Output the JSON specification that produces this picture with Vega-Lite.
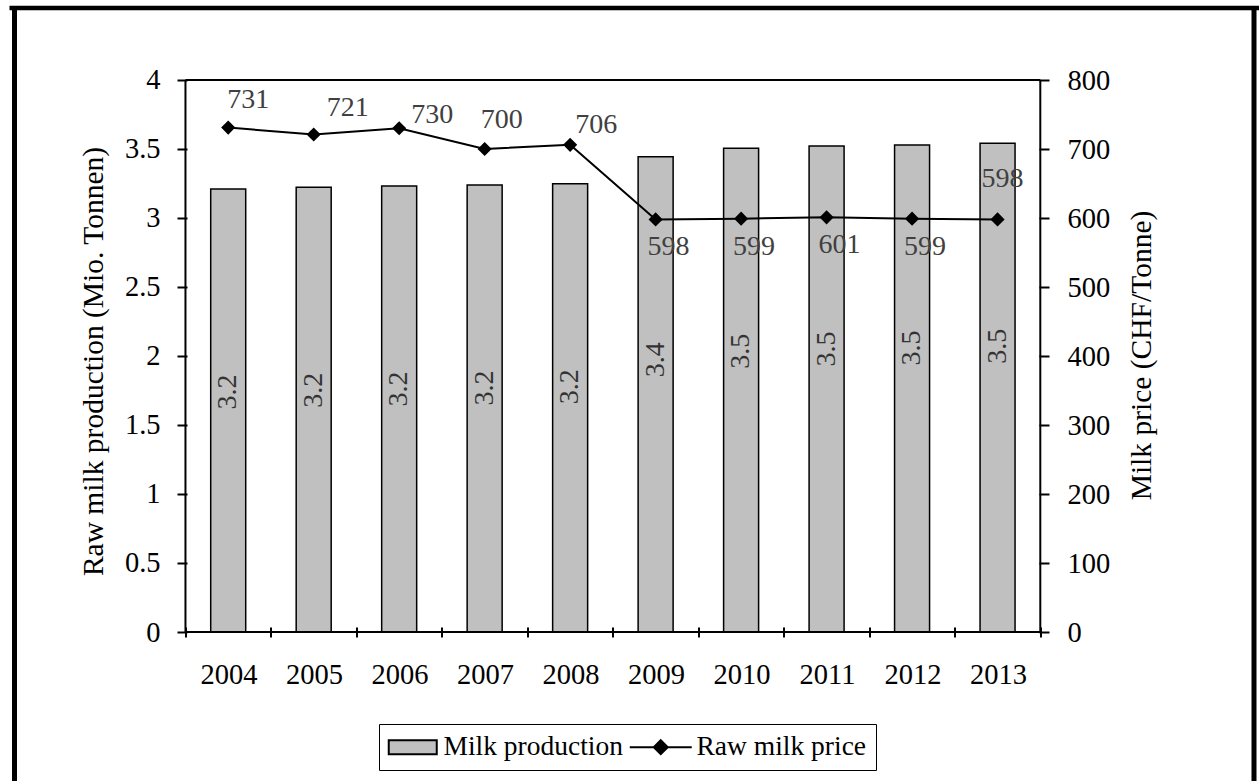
{
  "$schema": "https://vega.github.io/schema/vega-lite/v6.json",
  "width": 1249.5,
  "height": 773,
  "autosize": {"type": "none"},
  "padding": {"left": 9.5, "top": 8, "right": 0, "bottom": 0},
  "background": "white",
  "config": {
    "view": {"stroke": null},
    "font": "Liberation Serif",
    "axis": {
      "labelFont": "Liberation Serif",
      "titleFont": "Liberation Serif",
      "labelFontSize": 28.5,
      "titleFontSize": 29.5,
      "labelColor": "black",
      "titleColor": "black",
      "titleFontWeight": "normal",
      "domain": false,
      "grid": false,
      "tickColor": "black",
      "tickWidth": 2,
      "tickSize": 10
    }
  },
  "data": {
    "values": [
      {"year": 2004, "prod": 3.21, "price": 731},
      {"year": 2005, "prod": 3.222, "price": 721},
      {"year": 2006, "prod": 3.232, "price": 730},
      {"year": 2007, "prod": 3.239, "price": 700},
      {"year": 2008, "prod": 3.249, "price": 706},
      {"year": 2009, "prod": 3.444, "price": 598},
      {"year": 2010, "prod": 3.505, "price": 599},
      {"year": 2011, "prod": 3.522, "price": 601},
      {"year": 2012, "prod": 3.529, "price": 599},
      {"year": 2013, "prod": 3.541, "price": 598}
    ]
  },
  "layer": [
    {
      "layer": [
        {
          "mark": {"type": "bar", "orient": "vertical", "width": 35, "fill": "#c0c0c0", "stroke": "black", "strokeWidth": 1.5},
          "encoding": {
            "x": {
              "field": "year", "type": "quantitative",
              "scale": {"domain": [2001.5, 2016], "nice": false, "zero": false},
              "axis": {
                "orient": "bottom",
                "offset": -154,
                "values": [2003.5, 2004.5, 2005.5, 2006.5, 2007.5, 2008.5, 2009.5, 2010.5, 2011.5, 2012.5, 2013.5],
                "labelExpr": "datum.value < 2013 ? '' + (datum.value + 0.5) : ''",
                "labelOffset": 43.1,
                "labelPadding": 23,
                "labelAngle": 0,
                "labelFlush": false,
                "labelOverlap": false,
                "labelBound": false,
                "title": null
              }
            },
            "y": {
              "field": "prod", "type": "quantitative", "stack": null,
              "scale": {"domain": [-1.0797, 4.5217], "nice": false, "zero": false},
              "axis": {
                "orient": "left",
                "offset": -177.5,
                "values": [0, 0.5, 1, 1.5, 2, 2.5, 3, 3.5, 4],
                "format": "~g",
                "labelPadding": 17,
                "labelBaseline": "middle",
                "labelFlush": false,
                "labelOverlap": false,
                "labelBound": false,
                "title": "Raw milk production (Mio. Tonnen)",
                "titleAngle": 270,
                "titleX": -94,
                "titleY": 353,
                "titleAlign": "center",
                "titleBaseline": "middle"
              }
            }
          }
        },
        {
          "mark": {"type": "text", "angle": 270, "align": "center", "baseline": "middle", "dx": -203, "fontSize": 28, "font": "Liberation Serif", "color": "#333333"},
          "encoding": {
            "x": {"field": "year", "type": "quantitative"},
            "y": {"field": "prod", "type": "quantitative"},
            "text": {"field": "prod", "type": "quantitative", "format": ".1f"}
          }
        },
        {
          "data": {"values": [{}]},
          "mark": {"type": "rule", "color": "black", "strokeWidth": 2},
          "encoding": {
            "x": {"datum": 2003.5, "type": "quantitative"},
            "y": {"datum": 0, "type": "quantitative"},
            "y2": {"datum": 4}
          }
        },
        {
          "data": {"values": [{}]},
          "mark": {"type": "rule", "color": "black", "strokeWidth": 2},
          "encoding": {
            "x": {"datum": 2013.5, "type": "quantitative"},
            "y": {"datum": 0, "type": "quantitative"},
            "y2": {"datum": 4}
          }
        },
        {
          "data": {"values": [{}]},
          "mark": {"type": "rule", "color": "black", "strokeWidth": 2},
          "encoding": {
            "x": {"datum": 2003.5, "type": "quantitative"},
            "x2": {"datum": 2013.5},
            "y": {"datum": 4, "type": "quantitative"}
          }
        },
        {
          "data": {"values": [{}]},
          "mark": {"type": "rule", "color": "black", "strokeWidth": 2},
          "encoding": {
            "x": {"datum": 2003.5, "type": "quantitative"},
            "x2": {"datum": 2013.5},
            "y": {"datum": 0, "type": "quantitative"}
          }
        },
        {
          "data": {"values": [{}]},
          "mark": {"type": "rule", "color": "black", "strokeWidth": 5},
          "encoding": {
            "x": {"datum": 2001.5, "type": "quantitative"}
          }
        },
        {
          "data": {"values": [{}]},
          "mark": {"type": "rule", "color": "black", "strokeWidth": 5},
          "encoding": {
            "x": {"datum": 2016, "type": "quantitative"}
          }
        },
        {
          "data": {"values": [{}]},
          "mark": {"type": "rule", "color": "black", "strokeWidth": 4.5},
          "encoding": {
            "y": {"datum": 4.5217, "type": "quantitative"}
          }
        }
      ]
    },
    {
      "layer": [
        {
          "mark": {"type": "line", "strokeWidth": 2, "color": "black", "point": {"shape": "diamond", "size": 200, "filled": true, "color": "black"}},
          "encoding": {
            "x": {"field": "year", "type": "quantitative"},
            "y": {
              "field": "price", "type": "quantitative",
              "scale": {"domain": [-215.94, 904.35], "nice": false, "zero": false},
              "axis": {
                "orient": "right",
                "offset": -220,
                "values": [0, 100, 200, 300, 400, 500, 600, 700, 800],
                "format": "d",
                "labelPadding": 18,
                "labelBaseline": "middle",
                "labelFlush": false,
                "labelOverlap": false,
                "labelBound": false,
                "title": "Milk price (CHF/Tonne)",
                "titleAngle": 270,
                "titleX": 102,
                "titleY": 347,
                "titleAlign": "center",
                "titleBaseline": "middle"
              }
            }
          }
        },
        {
          "mark": {"type": "point", "filled": true, "size": 0, "strokeWidth": 2},
          "encoding": {
            "x": {"field": "year", "type": "quantitative"},
            "y": {"field": "price", "type": "quantitative"},
            "color": {
              "datum": "Raw milk price",
              "type": "nominal",
              "scale": {"domain": ["Milk production", "Raw milk price"], "range": ["#c0c0c0", "black"]},
              "legend": {
                "orient": "none",
                "legendX": 369.5,
                "legendY": 716,
                "direction": "horizontal",
                "title": null,
                "padding": 9,
                "columnPadding": 1,
                "strokeColor": "black",
                "labelFont": "Liberation Serif",
                "labelFontSize": 27.5,
                "labelColor": "black",
                "labelLimit": 500,
                "labelOffset": 28,
                "symbolSize": 196,
                "symbolStrokeColor": "black",
                "symbolStrokeWidth": 2,
                "symbolOpacity": 1
              }
            },
            "stroke": {
              "datum": "Raw milk price",
              "type": "nominal",
              "scale": {"domain": ["Milk production", "Raw milk price"], "range": ["black", "black"]},
              "legend": {
                "orient": "none",
                "legendX": 369.5,
                "legendY": 716,
                "direction": "horizontal",
                "title": null,
                "padding": 9,
                "columnPadding": 1,
                "strokeColor": "black",
                "labelFont": "Liberation Serif",
                "labelFontSize": 27.5,
                "labelColor": "black",
                "labelLimit": 500,
                "labelOffset": 28,
                "symbolSize": 196,
                "symbolStrokeWidth": 2,
                "symbolOpacity": 1
              }
            },
            "shape": {
              "datum": "Raw milk price",
              "type": "nominal",
              "scale": {"domain": ["Milk production", "Raw milk price"], "range": ["M-1.857,-1H5V1H-1.857Z", "M-3.57,0H5.29M0.857,-1L1.857,0L0.857,1L-0.143,0Z"]},
              "legend": {
                "orient": "none",
                "legendX": 369.5,
                "legendY": 716,
                "direction": "horizontal",
                "title": null,
                "padding": 9,
                "columnPadding": 1,
                "strokeColor": "black",
                "labelFont": "Liberation Serif",
                "labelFontSize": 27.5,
                "labelColor": "black",
                "labelLimit": 500,
                "labelOffset": 28,
                "symbolSize": 196,
                "symbolStrokeColor": "black",
                "symbolStrokeWidth": 2,
                "symbolOpacity": 1
              }
            }
          }
        },
        {
          "transform": [{"filter": {"field": "year", "oneOf": [2004]}}],
          "mark": {"type": "text", "dx": 20, "dy": -28, "fontSize": 28, "font": "Liberation Serif", "color": "#404040", "baseline": "middle", "align": "center"},
          "encoding": {"x": {"field": "year", "type": "quantitative"}, "y": {"field": "price", "type": "quantitative"}, "text": {"field": "price", "type": "quantitative"}}
        },
        {
          "transform": [{"filter": {"field": "year", "oneOf": [2005]}}],
          "mark": {"type": "text", "dx": 34, "dy": -27, "fontSize": 28, "font": "Liberation Serif", "color": "#404040", "baseline": "middle", "align": "center"},
          "encoding": {"x": {"field": "year", "type": "quantitative"}, "y": {"field": "price", "type": "quantitative"}, "text": {"field": "price", "type": "quantitative"}}
        },
        {
          "transform": [{"filter": {"field": "year", "oneOf": [2006]}}],
          "mark": {"type": "text", "dx": 33, "dy": -13, "fontSize": 28, "font": "Liberation Serif", "color": "#404040", "baseline": "middle", "align": "center"},
          "encoding": {"x": {"field": "year", "type": "quantitative"}, "y": {"field": "price", "type": "quantitative"}, "text": {"field": "price", "type": "quantitative"}}
        },
        {
          "transform": [{"filter": {"field": "year", "oneOf": [2007]}}],
          "mark": {"type": "text", "dx": 17, "dy": -29, "fontSize": 28, "font": "Liberation Serif", "color": "#404040", "baseline": "middle", "align": "center"},
          "encoding": {"x": {"field": "year", "type": "quantitative"}, "y": {"field": "price", "type": "quantitative"}, "text": {"field": "price", "type": "quantitative"}}
        },
        {
          "transform": [{"filter": {"field": "year", "oneOf": [2008]}}],
          "mark": {"type": "text", "dx": 26, "dy": -20, "fontSize": 28, "font": "Liberation Serif", "color": "#404040", "baseline": "middle", "align": "center"},
          "encoding": {"x": {"field": "year", "type": "quantitative"}, "y": {"field": "price", "type": "quantitative"}, "text": {"field": "price", "type": "quantitative"}}
        },
        {
          "transform": [{"filter": {"field": "year", "oneOf": [2009, 2010, 2011, 2012]}}],
          "mark": {"type": "text", "dx": 13, "dy": 28, "fontSize": 28, "font": "Liberation Serif", "color": "#404040", "baseline": "middle", "align": "center"},
          "encoding": {"x": {"field": "year", "type": "quantitative"}, "y": {"field": "price", "type": "quantitative"}, "text": {"field": "price", "type": "quantitative"}}
        },
        {
          "transform": [{"filter": {"field": "year", "oneOf": [2013]}}],
          "mark": {"type": "text", "dx": 5, "dy": -40, "fontSize": 28, "font": "Liberation Serif", "color": "#404040", "baseline": "middle", "align": "center"},
          "encoding": {"x": {"field": "year", "type": "quantitative"}, "y": {"field": "price", "type": "quantitative"}, "text": {"field": "price", "type": "quantitative"}}
        }
      ]
    }
  ],
  "resolve": {"scale": {"y": "independent"}, "axis": {"y": "independent"}}
}
